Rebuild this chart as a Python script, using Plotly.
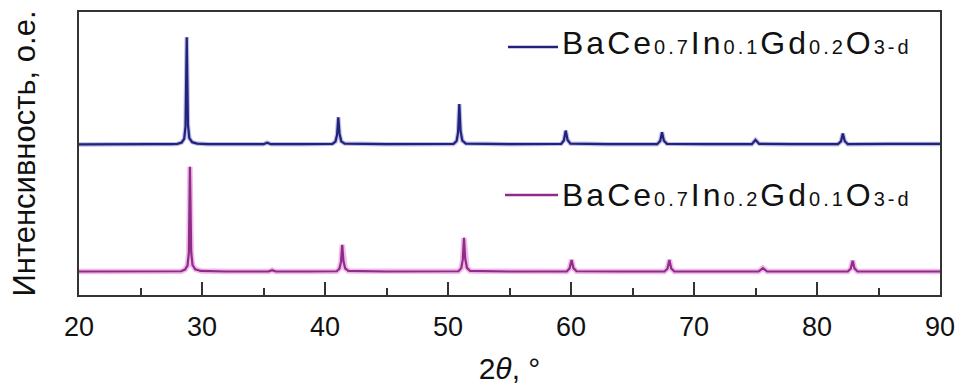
import plotly.graph_objects as go

# XRD patterns, 2theta in degrees, intensity in arbitrary units (stacked)
two_theta_a = [20.0, 22.0, 24.0, 26.0, 27.5, 28.0, 28.35, 28.55, 28.66, 28.76, 28.86, 28.97, 29.2, 29.6,
               30.5, 33.0, 35.0, 35.3, 35.6, 38.0, 40.6, 40.85, 40.98, 41.08, 41.18, 41.32, 41.6,
               45.0, 48.0, 50.45, 50.7, 50.82, 50.92, 51.02, 51.16, 51.45, 55.0, 59.2, 59.42, 59.57,
               59.72, 59.95, 63.0, 67.0, 67.25, 67.4, 67.55, 67.8, 71.0, 74.7, 75.0, 75.3, 78.0,
               81.7, 81.95, 82.1, 82.25, 82.5, 86.0, 90.0]
intensity_a = [53.2, 53.3, 53.2, 53.3, 53.3, 53.4, 53.9, 55.2, 59.5, 91.1, 60.0, 55.4, 54.0, 53.5,
               53.3, 53.3, 53.3, 53.8, 53.3, 53.3, 53.4, 54.2, 56.5, 62.8, 57.0, 54.3, 53.5,
               53.3, 53.3, 53.4, 54.4, 57.5, 67.5, 58.0, 54.6, 53.5, 53.3, 53.4, 54.6, 58.1,
               54.8, 53.5, 53.3, 53.3, 54.4, 57.5, 54.5, 53.4, 53.3, 53.3, 54.8, 53.4, 53.3,
               53.3, 54.3, 57.1, 54.4, 53.3, 53.4, 53.4]

two_theta_b = [20.0, 22.0, 24.0, 26.0, 28.3, 28.62, 28.82, 28.93, 29.02, 29.12, 29.23, 29.45, 29.9,
               32.0, 35.4, 35.7, 36.0, 38.5, 40.95, 41.17, 41.3, 41.4, 41.5, 41.64, 41.9, 45.0,
               48.0, 50.85, 51.08, 51.2, 51.3, 51.4, 51.54, 51.8, 55.0, 59.65, 59.88, 60.05, 60.2,
               60.45, 64.0, 67.6, 67.84, 68.0, 68.15, 68.4, 72.0, 75.25, 75.6, 75.95, 79.0, 82.5,
               82.74, 82.9, 83.05, 83.3, 86.5, 90.0]
intensity_b = [8.3, 8.3, 8.2, 8.3, 8.4, 9.0, 10.4, 14.8, 45.3, 15.2, 10.6, 9.1, 8.5,
               8.3, 8.3, 8.8, 8.3, 8.3, 8.4, 9.3, 11.6, 17.7, 12.0, 9.4, 8.5, 8.3,
               8.3, 8.4, 9.5, 12.5, 20.2, 12.8, 9.6, 8.5, 8.3, 8.3, 9.4, 12.4, 9.5,
               8.4, 8.3, 8.3, 9.3, 12.4, 9.4, 8.3, 8.3, 8.3, 9.5, 8.3, 8.3, 8.3,
               9.3, 12.1, 9.4, 8.3, 8.3, 8.3]

x_tick_values = [20, 30, 40, 50, 60, 70, 80, 90]
x_tick_labels = ["20", "30", "40", "50", "60", "70", "80", "90"]

name_a = "BaCe<sub>0.7</sub>In<sub>0.1</sub>Gd<sub>0.2</sub>O<sub>3-d</sub>"
name_b = "BaCe<sub>0.7</sub>In<sub>0.2</sub>Gd<sub>0.1</sub>O<sub>3-d</sub>"

W, H = 965, 389
ML, MR, MT, MB = 79, 25, 12, 94
PW, PH = W - ML - MR, H - MT - MB

COLOR_A = "#22227a"
COLOR_B = "#8e2c86"
FONT = "Liberation Sans"


def px_x(p):
    return (p - ML) / PW


def px_y(p):
    return (H - MB - p) / PH


def formula(text):
    # spaced-out label; subscripts sit on the baseline at a smaller size
    out = text.replace("<sub>", '<span style="font-size:20px">').replace("</sub>", "</span>")
    return '<span style="letter-spacing:3px">' + out + "</span>"


fig = go.Figure()
fig.add_trace(go.Scatter(x=two_theta_b, y=intensity_b, mode="lines",
                         line=dict(color="rgba(232,130,220,0.55)", width=5.5),
                         hoverinfo="skip", showlegend=False))
fig.add_trace(go.Scatter(x=two_theta_b, y=intensity_b, mode="lines", name=name_b,
                         line=dict(color=COLOR_B, width=2.2), showlegend=False))
fig.add_trace(go.Scatter(x=two_theta_a, y=intensity_a, mode="lines",
                         line=dict(color="rgba(70,70,190,0.35)", width=4.5),
                         hoverinfo="skip", showlegend=False))
fig.add_trace(go.Scatter(x=two_theta_a, y=intensity_a, mode="lines", name=name_a,
                         line=dict(color=COLOR_A, width=2.2), showlegend=False))

# legend keys drawn by hand so each sits next to its own pattern
for (x0, x1, yl, ytxt, col, nm) in [(508, 558, 47, 43, COLOR_A, name_a),
                                     (505, 558, 195, 195, COLOR_B, name_b)]:
    fig.add_shape(type="line", xref="paper", yref="paper",
                  x0=px_x(x0), x1=px_x(x1), y0=px_y(yl), y1=px_y(yl),
                  line=dict(color=col, width=2.5))
    fig.add_annotation(xref="paper", yref="paper", x=px_x(560), y=px_y(ytxt),
                       xanchor="left", yanchor="middle", showarrow=False,
                       text=formula(nm), font=dict(family=FONT, size=32, color="#111111"))

fig.update_layout(
    width=W, height=H,
    margin=dict(l=ML, r=MR, t=MT, b=MB, pad=0),
    paper_bgcolor="white", plot_bgcolor="white",
    font=dict(family=FONT, color="#111111"),
)
fig.update_xaxes(
    range=[20, 90], tickvals=x_tick_values, ticktext=x_tick_labels,
    ticks="inside", ticklen=13, tickwidth=1.5, tickcolor="#333333",
    minor=dict(dtick=5, ticks="inside", ticklen=7, tickwidth=1.5, tickcolor="#333333"),
    showline=True, linecolor="#333333", linewidth=1.6, mirror=True,
    showgrid=False, zeroline=False, automargin=False,
    tickfont=dict(family=FONT, size=27, color="#111111"), ticklabelstandoff=7,
    title=dict(text="2<i>θ</i>, °", font=dict(family=FONT, size=30, color="#111111"), standoff=17),
)
fig.update_yaxes(
    range=[0, 100], showticklabels=False, ticks="",
    showline=True, linecolor="#333333", linewidth=1.6, mirror=True,
    showgrid=False, zeroline=False, automargin=False,
    title=dict(text="Интенсивность, о.е.", font=dict(family=FONT, size=31, color="#111111"), standoff=32),
)

fig.write_html("out.html")
